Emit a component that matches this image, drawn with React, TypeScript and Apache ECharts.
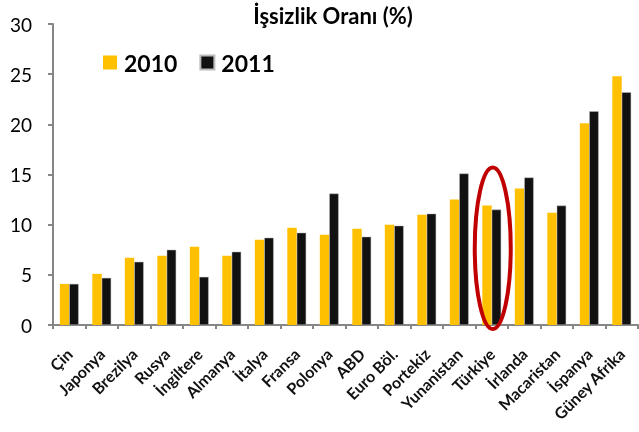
import React, { useEffect, useRef } from "react";
import * as echarts from "echarts";

const categories = ["Çin", "Japonya", "Brezilya", "Rusya", "İngiltere", "Almanya", "İtalya", "Fransa", "Polonya", "ABD", "Euro Böl.", "Portekiz", "Yunanistan", "Türkiye", "İrlanda", "Macaristan", "İspanya", "Güney Afrika"];
const values2010 = [4.1, 5.1, 6.7, 6.9, 7.8, 6.9, 8.5, 9.7, 9.0, 9.6, 10.0, 11.0, 12.5, 11.9, 13.6, 11.2, 20.1, 24.8];
const values2011 = [4.1, 4.7, 6.3, 7.5, 4.8, 7.3, 8.7, 9.2, 13.1, 8.8, 9.9, 11.1, 15.1, 11.5, 14.7, 11.9, 21.3, 23.2];
const yTicks = [0, 5, 10, 15, 20, 25, 30];
const highlighted = "Türkiye";
const highlightRange = [-0.4, 15.7];

const FONT = "Lato, 'Open Sans', sans-serif";

export default function App() {
  const ref = useRef<HTMLDivElement>(null);
  useEffect(() => {
    document.body.style.margin = "0";
    const chart = echarts.init(ref.current!, null, { renderer: "svg" });
    chart.setOption({
      animation: false,
      title: {
        text: "İşsizlik Oranı (%)",
        left: 333,
        textAlign: "center",
        top: 4,
        padding: 0,
        textStyle: { fontFamily: FONT, fontWeight: "bold", fontSize: 22, color: "#000" },
      },
      legend: {
        left: 103,
        top: 51,
        padding: 0,
        itemWidth: 14,
        itemHeight: 14,
        itemGap: 22,
        icon: "rect",
        textStyle: { fontFamily: FONT, fontWeight: "bold", fontSize: 23, color: "#000", padding: [0, 0, 0, 2] },
        data: ["2010", "2011"],
      },
      grid: { left: 53, right: 1, top: 24, bottom: 107, containLabel: false },
      xAxis: {
        type: "category",
        data: categories,
        axisLine: { lineStyle: { color: "#868686", width: 2 } },
        axisTick: { show: true, length: 4, lineStyle: { color: "#868686", width: 2 } },
        axisLabel: {
          rotate: 45,
          interval: 0,
          margin: 26,
          fontFamily: FONT,
          fontWeight: "bold",
          fontSize: 16,
          color: "#111",
        },
      },
      yAxis: {
        type: "value",
        min: yTicks[0],
        max: yTicks[yTicks.length - 1],
        interval: 5,
        splitLine: { show: false },
        axisLine: { show: true, lineStyle: { color: "#868686", width: 2 } },
        axisTick: { show: true, length: 5, lineStyle: { color: "#868686", width: 2 } },
        axisLabel: { fontFamily: FONT, fontSize: 19, color: "#000", margin: 21 },
      },
      series: [
        {
          name: "2010",
          type: "bar",
          data: values2010,
          barGap: "0%",
          barCategoryGap: "42%",
          itemStyle: { color: "#FFC000" },
        },
        {
          name: "2011",
          type: "bar",
          data: values2011,
          itemStyle: { color: "#111111", borderColor: "#bbbbbb", borderWidth: 0.5 },
        },
      ],
    });
    const top = chart.convertToPixel({ xAxisIndex: 0, yAxisIndex: 0 }, [highlighted, highlightRange[1]]) as number[];
    const bot = chart.convertToPixel({ xAxisIndex: 0, yAxisIndex: 0 }, [highlighted, highlightRange[0]]) as number[];
    chart.setOption({
      graphic: [
        {
          type: "ellipse",
          shape: { cx: top[0] + 1, cy: (top[1] + bot[1]) / 2, rx: 18, ry: (bot[1] - top[1]) / 2 },
          style: { fill: "none", stroke: "#C00000", lineWidth: 4 },
          z: 100,
        },
      ],
    });
    return () => chart.dispose();
  }, []);
  return <div ref={ref} style={{ position: "fixed", left: 0, top: 0, width: 639, height: 432 }} />;
}
